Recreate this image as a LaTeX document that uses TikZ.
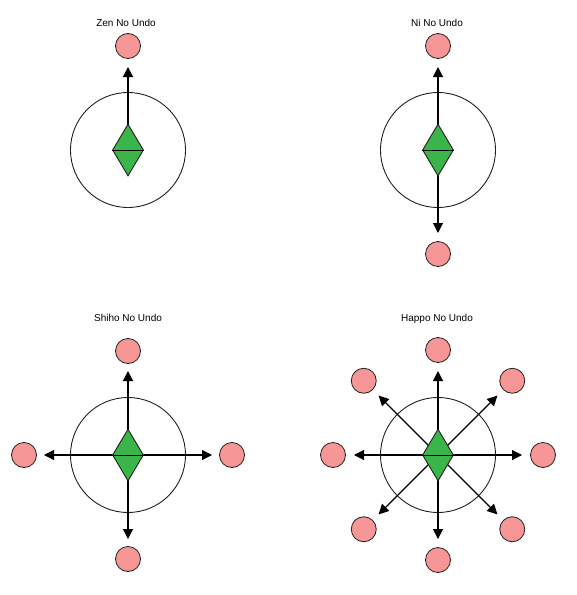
\documentclass[tikz,border=0pt]{standalone}
\usepackage{fontspec}
\newfontfamily\titlefont{Liberation Sans}
\usetikzlibrary{
  arrows.meta,
  calc,
  shapes.geometric
}
\definecolor{targetfill}{RGB}{246, 150, 150}
\definecolor{gemfill}{RGB}{57, 181, 74}
\definecolor{ringdraw}{RGB}{35, 31, 32}
\tikzset{
  % Sarlavha
  paneltitle/.style = {font=\titlefont\fontsize{10}{12}\selectfont, anchor=base, inner sep=0pt},
  % Katta doira
  ring/.style       = {circle, draw=ringdraw, line width=0.9pt, minimum size=115pt, inner sep=0pt},
  % Nishon doiralari
  target/.style     = {circle, fill=targetfill, draw=ringdraw, line width=0.8pt, minimum size=25pt, inner sep=0pt},
  % Markaziy romb
  gem/.style        = {diamond, fill=gemfill, draw=ringdraw, line width=0.9pt, minimum width=31pt, minimum height=52pt, inner sep=0pt},
  % Yo'nalish o'qlari
  push/.style       = {-{Triangle[length=10pt, width=10pt]}, line width=1.1pt, black},
}

\begin{document}
\begin{tikzpicture}[x=1pt, y=-1pt]
  \useasboundingbox (0,0) rectangle (577,595);
  % Zen No Undo: bitta yo'nalish
  \coordinate (zenc) at (128,150);
  \node[paneltitle] (zentitle) at (126,26) {Zen No Undo};
  \node[ring] (zenring) at (zenc) {};
  \foreach \d in {270}{
    \node[target] (zent\d) at ($(zenc)+(\d:104)$) {};
    \coordinate (zena\d) at ($(zenc)+(\d:83)$);
    \draw[push] (zenc) -- (zena\d);
  }
  \node[gem] (zengem) at (zenc) {};
  \draw[line width=0.9pt] (zengem.west) -- (zengem.east);

  % Ni No Undo: ikki yo'nalish
  \coordinate (nic) at (438,150);
  \node[paneltitle] (nititle) at (437,26) {Ni No Undo};
  \node[ring] (niring) at (nic) {};
  \foreach \d in {270,90}{
    \node[target] (nit\d) at ($(nic)+(\d:104)$) {};
    \coordinate (nia\d) at ($(nic)+(\d:83)$);
    \draw[push] (nic) -- (nia\d);
  }
  \node[gem] (nigem) at (nic) {};
  \draw[line width=0.9pt] (nigem.west) -- (nigem.east);

  % Shiho No Undo: to'rt yo'nalish
  \coordinate (shic) at (128,455);
  \node[paneltitle] (shititle) at (128,321) {Shiho No Undo};
  \node[ring] (shiring) at (shic) {};
  \foreach \d in {0,90,180,270}{
    \node[target] (shit\d) at ($(shic)+(\d:104)$) {};
    \coordinate (shia\d) at ($(shic)+(\d:84)$);
    \draw[push] (shic) -- (shia\d);
  }
  \node[gem] (shigem) at (shic) {};
  \draw[line width=0.9pt] (shigem.west) -- (shigem.east);

  % Happo No Undo: sakkiz yo'nalish
  \coordinate (hapc) at (438,455);
  \node[paneltitle] (haptitle) at (437,321) {Happo No Undo};
  \node[ring] (hapring) at (hapc) {};
  \foreach \d in {0,45,...,315}{
    \node[target] (hapt\d) at ($(hapc)+(\d:105)$) {};
    \coordinate (hapa\d) at ($(hapc)+(\d:84)$);
    \draw[push] (hapc) -- (hapa\d);
  }
  \node[gem] (hapgem) at (hapc) {};
  \draw[line width=0.9pt] (hapgem.west) -- (hapgem.east);
\end{tikzpicture}
\end{document}
